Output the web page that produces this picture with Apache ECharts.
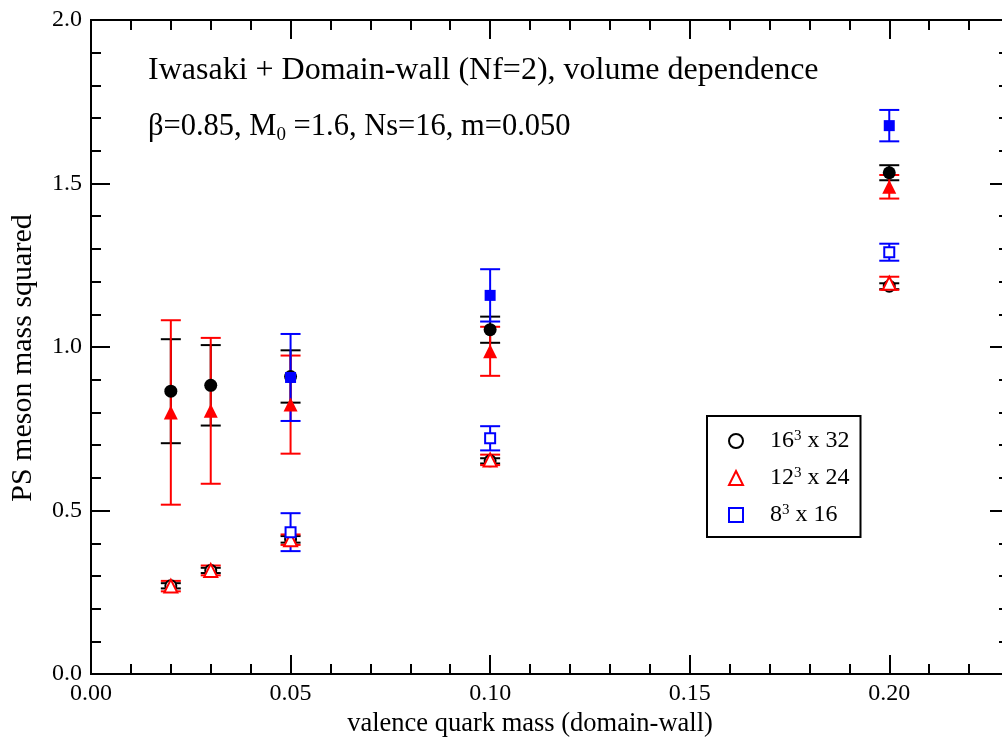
<!DOCTYPE html>
<html>
<head>
<meta charset="utf-8">
<script src="https://cdn.jsdelivr.net/npm/echarts@6/dist/echarts.min.js"></script>
<style>
  html, body { margin: 0; padding: 0; overflow: hidden; background: #fff; }
  #wrap { width: 1002px; height: 743px; overflow: hidden; position: relative; }
  #chart { width: 1010px; height: 743px; position: absolute; left: 0; top: 0; }
</style>
</head>
<body>
<div id="wrap"><div id="chart"></div></div>
<script>
// valence quark masses
const xMass = [0.02, 0.03, 0.05, 0.10, 0.20];
const xMass8 = [0.05, 0.10, 0.20];

// filled symbols
const l16Filled = [0.865, 0.883, 0.910, 1.053, 1.533];
const l16FilledErr = [0.159, 0.123, 0.080, 0.040, 0.023];
const l12Filled = [0.800, 0.805, 0.824, 0.987, 1.490];
const l12FilledErr = [0.282, 0.223, 0.150, 0.075, 0.036];
const l8Filled = [0.907, 1.158, 1.677];
const l8FilledErr = [0.133, 0.080, 0.048];

// open symbols (legend)
const l16Open = [0.270, 0.317, 0.412, 0.652, 1.186];
const l16OpenErr = [0.008, 0.008, 0.010, 0.008, 0.009];
const l12Open = [0.269, 0.317, 0.411, 0.655, 1.195];
const l12OpenErr = [0.016, 0.015, 0.016, 0.016, 0.020];
const l8Open = [0.434, 0.721, 1.290];
const l8OpenErr = [0.058, 0.037, 0.026];

const seriesNames = ["16^3 x 32", "12^3 x 24", "8^3 x 16"];
const legendText = {
  "16^3 x 32": "16{sup|3} x 32",
  "12^3 x 24": "12{sup|3} x 24",
  "8^3 x 16": "8{sup|3} x 16",
};

const FONT = "Liberation Serif";
const BLACK = "#000000", RED = "#ff0000", BLUE = "#0000ff";

function pts(xs, ys) { return xs.map((x, i) => [x, ys[i]]); }
function errPts(xs, ys, es) { return xs.map((x, i) => [x, ys[i], es[i]]); }

function errorBars(name, xs, ys, es, color) {
  return {
    type: "custom",
    name: name,
    silent: true,
    data: errPts(xs, ys, es),
    renderItem: function (params, api) {
      const x = api.value(0), y = api.value(1), e = api.value(2);
      const top = api.coord([x, y + e]);
      const bot = api.coord([x, y - e]);
      const hw = 10;
      const st = { stroke: color, lineWidth: 2 };
      return {
        type: "group",
        children: [
          { type: "line", shape: { x1: top[0], y1: top[1], x2: bot[0], y2: bot[1] }, style: st },
          { type: "line", shape: { x1: top[0] - hw, y1: top[1], x2: top[0] + hw, y2: top[1] }, style: st },
          { type: "line", shape: { x1: bot[0] - hw, y1: bot[1], x2: bot[0] + hw, y2: bot[1] }, style: st },
        ],
      };
    },
  };
}

function markers(name, xs, ys, symbol, size, color, open) {
  return {
    type: "scatter",
    name: name,
    data: pts(xs, ys),
    symbol: symbol,
    symbolSize: size,
    itemStyle: open
      ? { color: color, borderColor: color, borderWidth: 1.5, opacity: 1 }
      : { color: color, opacity: 1 },
  };
}

const chart = echarts.init(document.getElementById("chart"));

function xAxisDef(pos, interval, len, labels) {
  return {
    type: "value",
    position: pos,
    min: 0,
    max: 0.23,
    interval: interval,
    axisLine: { show: true, onZero: false, lineStyle: { color: "#000", width: 2 } },
    axisTick: { show: true, inside: true, length: len, lineStyle: { color: "#000", width: 2 } },
    axisLabel: labels
      ? {
          show: true,
          margin: 8,
          fontFamily: FONT,
          fontSize: 24,
          color: "#000",
          showMaxLabel: false,
          formatter: function (v) {
            const k = v / 0.05;
            return Math.abs(k - Math.round(k)) < 1e-6 ? v.toFixed(2) : "";
          },
        }
      : { show: false },
    splitLine: { show: false },
  };
}

function yAxisDef(pos, labels) {
  return {
    type: "value",
    position: pos,
    min: 0,
    max: 2,
    interval: 0.5,
    axisLine: { show: true, onZero: false, lineStyle: { color: "#000", width: 2 } },
    axisTick: { show: true, inside: true, length: 19, lineStyle: { color: "#000", width: 2 } },
    minorTick: { show: true, splitNumber: 5, length: 10, lineStyle: { color: "#000", width: 2 } },
    axisLabel: labels
      ? { show: true, margin: 9, fontFamily: FONT, fontSize: 24, color: "#000", formatter: (v) => v.toFixed(1) }
      : { show: false },
    splitLine: { show: false },
  };
}

const xAxes = [
  xAxisDef("bottom", 0.05, 19, true),
  xAxisDef("bottom", 0.01, 10, false),
  xAxisDef("top", 0.05, 19, false),
  xAxisDef("top", 0.01, 10, false),
];
xAxes[0].name = "valence quark mass (domain-wall)";
xAxes[0].nameLocation = "middle";
xAxes[0].nameGap = 33;
xAxes[0].nameTextStyle = { fontFamily: FONT, fontSize: 26.5, color: "#000", padding: [0, 40, 0, 0] };

const yAxes = [yAxisDef("left", true), yAxisDef("right", false)];
yAxes[0].name = "PS meson mass squared";
yAxes[0].nameLocation = "middle";
yAxes[0].nameGap = 53;
yAxes[0].nameTextStyle = { fontFamily: FONT, fontSize: 30, color: "#000", padding: [0, 22, 0, 0] };

chart.setOption({
  animation: false,
  backgroundColor: "#fff",
  grid: { left: 91, top: 20, right: 1, bottom: 63, containLabel: false },
  xAxis: xAxes,
  yAxis: yAxes,
  legend: {
    data: seriesNames,
    orient: "vertical",
    left: 707,
    top: 416,
    padding: [13, 11, 10, 21],
    itemGap: 13,
    itemWidth: 14,
    itemHeight: 14,
    borderColor: "#000",
    borderWidth: 2,
    backgroundColor: "#fff",
    selectedMode: false,
    textStyle: {
      fontFamily: FONT,
      fontSize: 24,
      color: "#000",
      lineHeight: 24,
      padding: [0, 0, 0, 22],
      rich: { sup: { fontFamily: FONT, fontSize: 15, lineHeight: 14, verticalAlign: "top" } },
    },
    formatter: (name) => legendText[name],
  },
  graphic: [
    {
      type: "text",
      left: 148,
      top: 55,
      style: {
        text: "Iwasaki + Domain-wall (Nf=2), volume dependence",
        fontFamily: FONT,
        fontSize: 32,
        fill: "#000",
      },
    },
    {
      type: "text",
      left: 148,
      top: 109,
      style: {
        text: "β=0.85, M{sub|0} =1.6, Ns=16, m=0.050",
        fontFamily: FONT,
        fontSize: 30.5,
        lineHeight: 36,
        fill: "#000",
        rich: { sub: { fontFamily: FONT, fontSize: 19, lineHeight: 16, verticalAlign: "bottom" } },
      },
    },
  ],
  series: [
    errorBars("16 open err", xMass, l16Open, l16OpenErr, BLACK),
    markers(seriesNames[0], xMass, l16Open, "emptyCircle", 11, BLACK, true),
    errorBars("12 open err", xMass, l12Open, l12OpenErr, RED),
    markers(seriesNames[1], xMass, l12Open, "emptyTriangle", 13, RED, true),
    errorBars("8 open err", xMass8, l8Open, l8OpenErr, BLUE),
    markers(seriesNames[2], xMass8, l8Open, "emptyRect", 10, BLUE, true),
    errorBars("16 filled err", xMass, l16Filled, l16FilledErr, BLACK),
    markers("16 filled", xMass, l16Filled, "circle", 13, BLACK, false),
    errorBars("12 filled err", xMass, l12Filled, l12FilledErr, RED),
    markers("12 filled", xMass, l12Filled, "triangle", 14, RED, false),
    errorBars("8 filled err", xMass8, l8Filled, l8FilledErr, BLUE),
    markers("8 filled", xMass8, l8Filled, "rect", 11, BLUE, false),
  ],
});
</script>
</body>
</html>
